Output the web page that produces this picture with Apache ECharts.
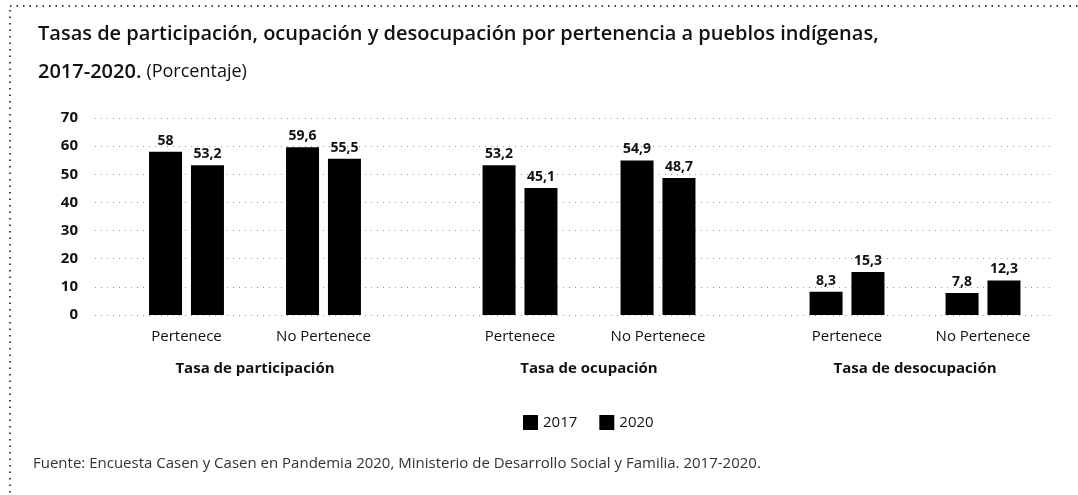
<!DOCTYPE html>
<html>
<head>
<meta charset="utf-8">
<script src="https://cdn.jsdelivr.net/npm/echarts@6/dist/echarts.min.js"></script>
<style>
  html, body { margin: 0; padding: 0; background: #fff; }
  #chart { width: 1078px; height: 495px; }
</style>
</head>
<body>
<div id="chart"></div>
<script>
// datos
const groups = ['Tasa de participación', 'Tasa de ocupación', 'Tasa de desocupación']
const categories = ['Pertenece', 'No Pertenece']
const years = ['2017', '2020']
const values2017 = [[58, 59.6], [53.2, 54.9], [8.3, 7.8]]
const values2020 = [[53.2, 55.5], [45.1, 48.7], [15.3, 12.3]]
const yTicks = [0, 10, 20, 30, 40, 50, 60, 70]

const font = '"Open Sans", "Noto Sans", sans-serif'
const chart = echarts.init(document.getElementById('chart'))

// tres grupos, cada uno en su propia grilla
const groupGrids = [
  { left: 118, width: 274 },
  { left: 451, width: 276 },
  { left: 779, width: 272 }
]
const plotTop = 118
const plotHeight = 197

const fmt = v => String(v).replace('.', ',')

const grid = [{ left: 95, right: 28, top: plotTop, height: plotHeight }]
const xAxis = [{ type: 'value', gridIndex: 0, show: false }]
const yAxis = [{
  type: 'value',
  gridIndex: 0,
  min: yTicks[0],
  max: yTicks[yTicks.length - 1],
  interval: 10,
  axisLine: { show: false },
  axisTick: { show: false },
  axisLabel: { color: '#111', fontFamily: font, fontWeight: 'bold', fontSize: 15, margin: 17 },
  splitLine: { lineStyle: { color: '#9a9a9a', type: [1, 5], width: 1 } }
}]
const series = []

groups.forEach((g, i) => {
  const gi = i + 1
  grid.push({ left: groupGrids[i].left, width: groupGrids[i].width, top: plotTop, height: plotHeight })
  xAxis.push({
    type: 'category',
    gridIndex: gi,
    data: categories,
    axisLine: { show: false },
    axisTick: { show: false },
    axisLabel: { color: '#111', fontFamily: font, fontSize: 15, margin: 14 },
    name: g,
    nameLocation: 'middle',
    nameGap: 46,
    nameTextStyle: { color: '#111', fontFamily: font, fontWeight: 'bold', fontSize: 15 }
  })
  yAxis.push({ type: 'value', gridIndex: gi, min: 0, max: 70, show: false })
  ;[values2017[i], values2020[i]].forEach((vals, k) => {
    series.push({
      name: years[k],
      type: 'bar',
      xAxisIndex: gi,
      yAxisIndex: gi,
      data: vals,
      barWidth: 33,
      barGap: '27%',
      itemStyle: { color: '#000' },
      label: {
        show: true,
        position: 'top',
        distance: 4,
        color: '#111',
        fontFamily: font,
        fontWeight: 'bold',
        fontSize: 14,
        formatter: p => fmt(p.value)
      }
    })
  })
})

const option = {
  animation: false,
  title: {
    left: 33,
    top: 10,
    text: '{b|Tasas de participación, ocupación y desocupación por pertenencia a pueblos indígenas,}\n{b|2017-2020.} {n|(Porcentaje)}',
    textStyle: {
      rich: {
        b: { fontFamily: font, fontSize: 20, fontWeight: 600, color: '#111', lineHeight: 38 },
        n: { fontFamily: font, fontSize: 18, fontWeight: 'normal', color: '#111', lineHeight: 38 }
      }
    }
  },
  legend: {
    data: years,
    left: 518,
    top: 410,
    itemWidth: 15,
    itemHeight: 15,
    itemGap: 22,
    icon: 'rect',
    textStyle: { color: '#111', fontFamily: font, fontSize: 15 }
  },
  graphic: [
    {
      type: 'rect',
      shape: { x: 10, y: 6, width: 1200, height: 600 },
      style: { fill: 'none', stroke: '#444', lineWidth: 2, lineDash: [1.5, 5] },
      silent: true
    },
    {
      type: 'text',
      left: 33,
      top: 456,
      style: {
        text: 'Fuente: Encuesta Casen y Casen en Pandemia 2020, Ministerio de Desarrollo Social y Familia. 2017-2020.',
        fill: '#333',
        font: '15px ' + font
      }
    }
  ],
  grid,
  xAxis,
  yAxis,
  series
}

chart.setOption(option)
</script>
</body>
</html>
